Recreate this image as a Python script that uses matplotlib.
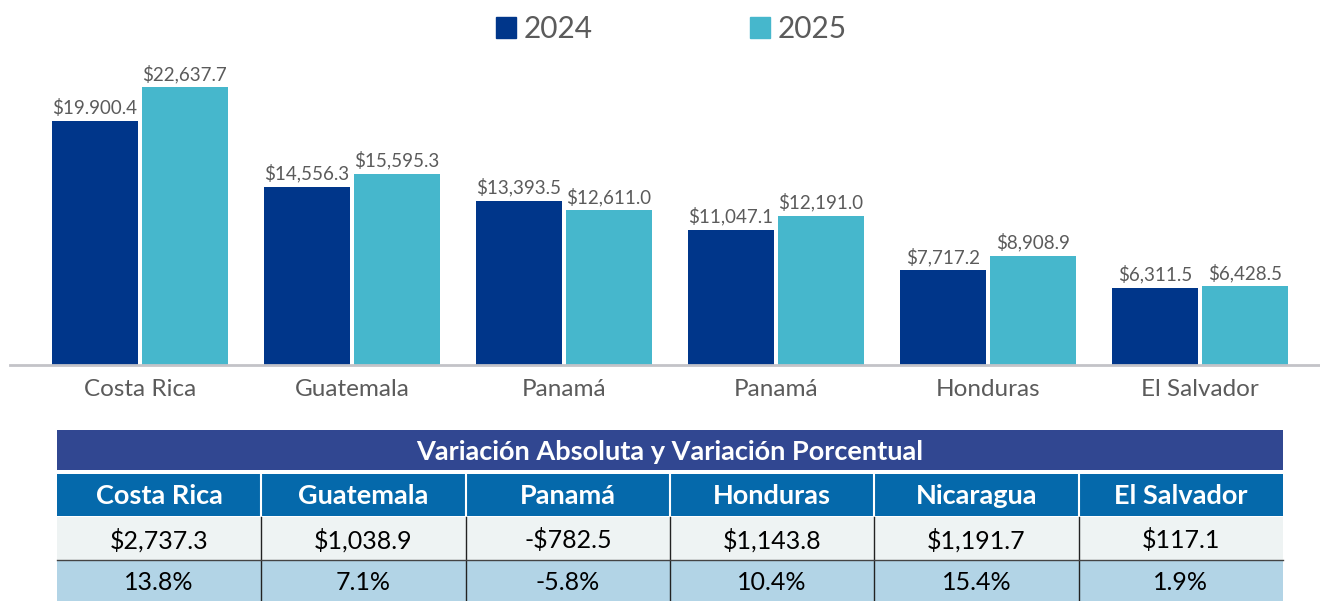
import matplotlib
matplotlib.use('Agg')
import matplotlib.pyplot as plt
from matplotlib.patches import Rectangle, Patch

plt.rcParams['font.family'] = ['Lato', 'DejaVu Sans']

countries = ['Costa Rica', 'Guatemala', 'Panamá', 'Panamá', 'Honduras', 'El Salvador']
v2024 = [19900.4, 14556.3, 13393.5, 11047.1, 7717.2, 6311.5]
v2025 = [22637.7, 15595.3, 12611.0, 12191.0, 8908.9, 6428.5]
lab2024 = ['$19.900.4', '$14,556.3', '$13,393.5', '$11,047.1', '$7,717.2', '$6,311.5']
lab2025 = ['$22,637.7', '$15,595.3', '$12,611.0', '$12,191.0', '$8,908.9', '$6,428.5']

table_title = 'Variación Absoluta y Variación Porcentual'
table_cols = ['Costa Rica', 'Guatemala', 'Panamá', 'Honduras', 'Nicaragua', 'El Salvador']
abs_var = ['$2,737.3', '$1,038.9', '-$782.5', '$1,143.8', '$1,191.7', '$117.1']
pct_var = ['13.8%', '7.1%', '-5.8%', '10.4%', '15.4%', '1.9%']

c2024 = '#00368a'
c2025 = '#46b7cc'
gray = '#5b5b5b'

W, H = 1320, 601
fig = plt.figure(figsize=(W / 100, H / 100), dpi=100)

# table drawn in pixel coordinates on a full-figure axes
tax = fig.add_axes([0, 0, 1, 1])
tax.set_xlim(0, W)
tax.set_ylim(H, 0)
tax.axis('off')

x0, x1 = 57, 1283
cw = (x1 - x0) / len(table_cols)
tax.add_patch(Rectangle((x0, 430), x1 - x0, 40, color='#314791', lw=0))
tax.text((x0 + x1) / 2, 452, table_title, color='white', fontsize=19.5,
         fontweight='bold', ha='center', va='center')
rows = [(474, 42, '#0569ab'), (517, 43, '#eef3f3'), (561, 40, '#b2d4e6')]
for y, h, col in rows:
    tax.add_patch(Rectangle((x0, y), x1 - x0, h, color=col, lw=0))
for i, name in enumerate(table_cols):
    cx = x0 + cw * (i + 0.5)
    tax.text(cx, 496, name, color='white', fontsize=19.5, fontweight='bold',
             ha='center', va='center')
    tax.text(cx, 540, abs_var[i], color='black', fontsize=18,
             ha='center', va='center', parse_math=False)
    tax.text(cx, 582, pct_var[i], color='black', fontsize=18,
             ha='center', va='center')
for i in range(1, len(table_cols)):
    xs = x0 + cw * i
    tax.plot([xs, xs], [474, 516], color='white', lw=1.5)
    tax.plot([xs, xs], [517, 601], color='#222222', lw=1)
tax.plot([x0, x1], [560, 560], color='#444444', lw=1)

# bar chart
ax = fig.add_axes([10 / W, (H - 365) / H, 1310 / W, 365 / H])
x = list(range(len(countries)))
off, bw = 0.212, 0.402
b1 = ax.bar([i - off for i in x], v2024, width=bw, color=c2024, zorder=2)
b2 = ax.bar([i + off for i in x], v2025, width=bw, color=c2025, zorder=2)
for bars, labs in ((b1, lab2024), (b2, lab2025)):
    for bar, lab in zip(bars, labs):
        ax.annotate(lab, (bar.get_x() + bar.get_width() / 2, bar.get_height()),
                    xytext=(0, 3), textcoords='offset points', ha='center',
                    va='bottom', color=gray, fontsize=13.5, annotation_clip=False)

ax.set_xlim(-0.613, 5.566)
ax.set_ylim(0, 29770)
ax.set_xticks(x)
ax.set_xticklabels(countries, fontsize=17.5, color=gray)
ax.tick_params(axis='x', length=0, pad=10)
ax.set_yticks([])
for s in ['top', 'right', 'left']:
    ax.spines[s].set_visible(False)
ax.spines['bottom'].set_color('#c3c3c8')
ax.spines['bottom'].set_linewidth(2)
ax.patch.set_visible(False)

handles = [Patch(color=c2024, label='2024'), Patch(color=c2025, label='2025')]
fig.legend(handles=handles, loc='upper left', bbox_to_anchor=(496 / W, 1 - 15 / H),
           ncol=2, frameon=False, fontsize=21.5, labelcolor=gray,
           handlelength=0.67, handleheight=0.7, handletextpad=0.24,
           columnspacing=5.3, borderpad=0, borderaxespad=0)

fig.savefig('out.png', dpi=100)
